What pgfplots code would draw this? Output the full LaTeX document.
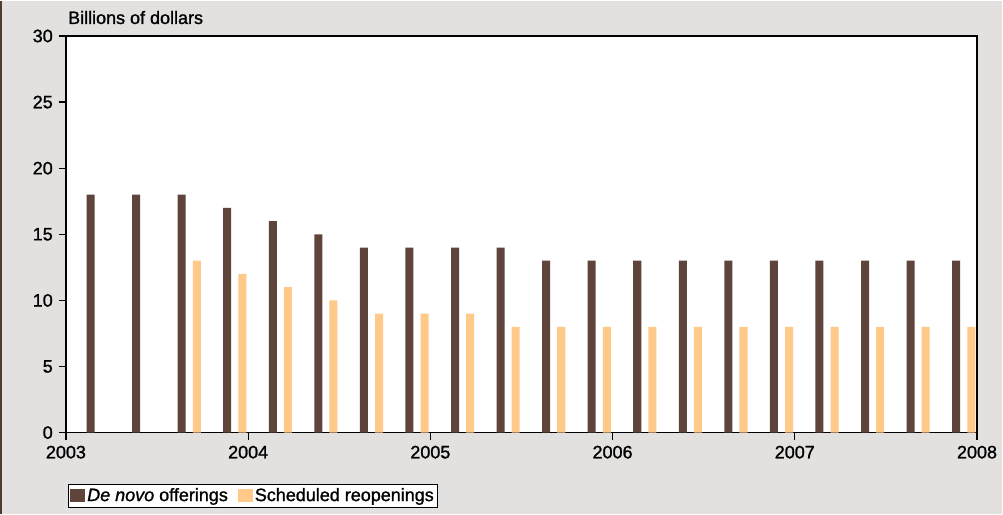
\documentclass[border=0pt]{standalone}
\usepackage{pgfplots}
\pgfplotsset{compat=1.18}
\usepackage{fontspec}
\setmainfont{Liberation Sans}[FakeBold=1.2, ItalicFeatures={FakeBold=1.2}]
\definecolor{denovo}{HTML}{5E443B}
\definecolor{reopen}{HTML}{FFC98A}
\definecolor{bgray}{HTML}{E2E1E0}

\begin{document}
\fontsize{18}{21}\selectfont
\begin{tikzpicture}
% page background and left rule
\fill[bgray] (-66pt,-81pt) rectangle (937pt,432pt);
\draw[denovo!85!black, line width=2pt] (-65pt,-81pt) -- (-65pt,432pt);
\begin{axis}[
    name=ax,
    at={(0pt,0pt)}, anchor=south west,
    scale only axis,
    width=912pt, height=397pt,
    xmin=2003, xmax=2008,
    ymin=0, ymax=30,
    xtick={2003,2004,...,2008},
    ytick={0,5,...,30},
    xticklabel style={/pgf/number format/1000 sep={}},
    /pgf/number format/assume math mode=true,
    tick label style={font=\fontsize{18}{21}\selectfont},
    tick align=outside,
    xtick pos=left, ytick pos=left,
    major tick length=7pt,
    tick style={black, line width=1.2pt},
    axis line style={black, line width=1.4pt},
    axis background/.style={fill=white},
    legend columns=2,
    legend style={at={(axis description cs:0.002,0)}, anchor=north west,
        yshift=-51pt, draw=black, line width=1pt, fill=white,
        font=\fontsize{18}{21}\selectfont, inner sep=2pt,
        /tikz/every even column/.append style={column sep=8pt}},
    legend image code/.code={\fill[#1] (0pt,-6pt) rectangle (15pt,7pt);},
]
\addplot[ybar, bar shift=0pt, bar width=0.044, fill=denovo, draw=none]
coordinates {
    (2003.135,18) (2003.385,18) (2003.635,18) (2003.885,17)
    (2004.135,16) (2004.385,15) (2004.635,14) (2004.885,14)
    (2005.135,14) (2005.385,14) (2005.635,13) (2005.885,13)
    (2006.135,13) (2006.385,13) (2006.635,13) (2006.885,13)
    (2007.135,13) (2007.385,13) (2007.635,13) (2007.885,13)
};
\addlegendentry{\textit{De novo} offerings}
\addplot[ybar, bar shift=0pt, bar width=0.044, fill=reopen, draw=none]
coordinates {
    (2003.718,13) (2003.968,12)
    (2004.218,11) (2004.468,10) (2004.718,9) (2004.968,9)
    (2005.218,9) (2005.468,8) (2005.718,8) (2005.968,8)
    (2006.218,8) (2006.468,8) (2006.718,8) (2006.968,8)
    (2007.218,8) (2007.468,8) (2007.718,8) (2007.968,8)
};
\addlegendentry{Scheduled reopenings}
\end{axis}
\node[anchor=base west, inner sep=0pt, font=\fontsize{18}{21}\selectfont]
    at ([xshift=2pt, yshift=12pt]ax.north west) {Billions of dollars};
\end{tikzpicture}
\end{document}
